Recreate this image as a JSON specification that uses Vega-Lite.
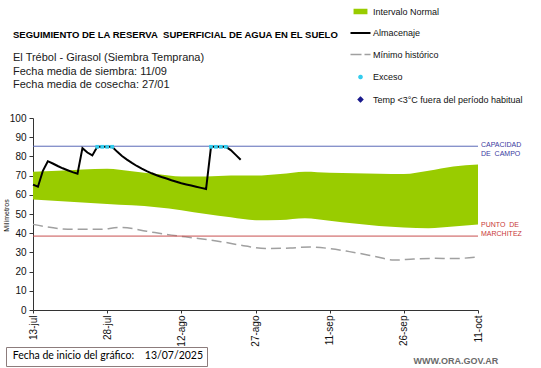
{
  "$schema": "https://vega.github.io/schema/vega-lite/v6.json",
  "width": 445,
  "height": 192,
  "autosize": "none",
  "padding": {"left": 33, "top": 118, "right": 63, "bottom": 58},
  "background": "white",
  "config": {
    "view": {"stroke": null},
    "font": "Liberation Sans",
    "axisY": {"labelOverlap": false, "labelSeparation": 0},
    "title": {"font": "Liberation Sans", "fontSize": 9.5, "fontWeight": "bold", "color": "#000000", "anchor": "start", "frame": "group", "dx": -20, "offset": -96.5, "subtitleFont": "Liberation Sans", "subtitleFontSize": 11, "subtitleColor": "#1a1a1a", "subtitleLineHeight": 13.5, "subtitlePadding": 13}
  },
  "title": {
    "text": "SEGUIMIENTO DE LA RESERVA\u00a0 SUPERFICIAL DE AGUA EN EL SUELO",
    "subtitle": ["El Trébol - Girasol (Siembra Temprana)", "\u00a0", "Fecha media de siembra: 11/09", "Fecha media de cosecha: 27/01"]
  },
  "datasets": {
    "banda": [
      {"fecha": "2025-07-13", "inferior": 57.6, "valor": 72.0},
      {"fecha": "2025-07-18", "inferior": 56.8, "valor": 72.5},
      {"fecha": "2025-07-23", "inferior": 56.0, "valor": 73.2},
      {"fecha": "2025-07-28", "inferior": 55.2, "valor": 73.6},
      {"fecha": "2025-08-02", "inferior": 54.5, "valor": 72.3},
      {"fecha": "2025-08-07", "inferior": 53.5, "valor": 70.8},
      {"fecha": "2025-08-12", "inferior": 52.0, "valor": 69.5},
      {"fecha": "2025-08-17", "inferior": 50.0, "valor": 69.5},
      {"fecha": "2025-08-22", "inferior": 48.3, "valor": 70.0},
      {"fecha": "2025-08-27", "inferior": 46.8, "valor": 70.0},
      {"fecha": "2025-09-01", "inferior": 46.9, "valor": 70.8},
      {"fecha": "2025-09-06", "inferior": 47.8, "valor": 72.0},
      {"fecha": "2025-09-11", "inferior": 46.5, "valor": 71.5},
      {"fecha": "2025-09-16", "inferior": 45.0, "valor": 71.2},
      {"fecha": "2025-09-21", "inferior": 43.8, "valor": 71.0},
      {"fecha": "2025-09-26", "inferior": 43.0, "valor": 70.8},
      {"fecha": "2025-10-01", "inferior": 42.6, "valor": 72.5},
      {"fecha": "2025-10-06", "inferior": 43.5, "valor": 74.8},
      {"fecha": "2025-10-11", "inferior": 44.5, "valor": 75.8}
    ],
    "minimo": [
      {"fecha": "2025-07-13", "valor": 44.6},
      {"fecha": "2025-07-16", "valor": 43.2},
      {"fecha": "2025-07-21", "valor": 42.0},
      {"fecha": "2025-07-26", "valor": 42.0},
      {"fecha": "2025-07-31", "valor": 43.0},
      {"fecha": "2025-08-05", "valor": 41.0},
      {"fecha": "2025-08-10", "valor": 39.0},
      {"fecha": "2025-08-15", "valor": 37.4},
      {"fecha": "2025-08-20", "valor": 35.6},
      {"fecha": "2025-08-25", "valor": 33.3},
      {"fecha": "2025-08-29", "valor": 32.0},
      {"fecha": "2025-09-03", "valor": 32.3},
      {"fecha": "2025-09-07", "valor": 32.8},
      {"fecha": "2025-09-11", "valor": 32.0},
      {"fecha": "2025-09-15", "valor": 30.4},
      {"fecha": "2025-09-20", "valor": 28.0},
      {"fecha": "2025-09-24", "valor": 26.0},
      {"fecha": "2025-09-28", "valor": 26.6},
      {"fecha": "2025-10-02", "valor": 26.9},
      {"fecha": "2025-10-06", "valor": 26.8},
      {"fecha": "2025-10-11", "valor": 27.6}
    ],
    "almacenaje": [
      {"fecha": "2025-07-13", "valor": 65.3},
      {"fecha": "2025-07-14", "valor": 64.2},
      {"fecha": "2025-07-15", "valor": 72.5},
      {"fecha": "2025-07-16", "valor": 77.5},
      {"fecha": "2025-07-17", "valor": 76.3},
      {"fecha": "2025-07-18", "valor": 75.0},
      {"fecha": "2025-07-19", "valor": 73.8},
      {"fecha": "2025-07-20", "valor": 72.8},
      {"fecha": "2025-07-21", "valor": 71.8},
      {"fecha": "2025-07-22", "valor": 71.0},
      {"fecha": "2025-07-23", "valor": 84.3},
      {"fecha": "2025-07-24", "valor": 82.0},
      {"fecha": "2025-07-25", "valor": 80.5},
      {"fecha": "2025-07-26", "valor": 85.0},
      {"fecha": "2025-07-27", "valor": 85.0},
      {"fecha": "2025-07-28", "valor": 85.0},
      {"fecha": "2025-07-29", "valor": 85.0},
      {"fecha": "2025-07-30", "valor": 82.5},
      {"fecha": "2025-07-31", "valor": 80.2},
      {"fecha": "2025-08-01", "valor": 78.3},
      {"fecha": "2025-08-02", "valor": 76.6},
      {"fecha": "2025-08-03", "valor": 75.0},
      {"fecha": "2025-08-04", "valor": 73.6},
      {"fecha": "2025-08-05", "valor": 72.3},
      {"fecha": "2025-08-06", "valor": 71.2},
      {"fecha": "2025-08-07", "valor": 70.2},
      {"fecha": "2025-08-08", "valor": 69.3},
      {"fecha": "2025-08-09", "valor": 68.5},
      {"fecha": "2025-08-10", "valor": 67.6},
      {"fecha": "2025-08-11", "valor": 66.8},
      {"fecha": "2025-08-12", "valor": 66.0},
      {"fecha": "2025-08-13", "valor": 65.4},
      {"fecha": "2025-08-14", "valor": 64.8},
      {"fecha": "2025-08-15", "valor": 64.2},
      {"fecha": "2025-08-16", "valor": 63.6},
      {"fecha": "2025-08-17", "valor": 63.0},
      {"fecha": "2025-08-18", "valor": 85.0},
      {"fecha": "2025-08-19", "valor": 85.0},
      {"fecha": "2025-08-20", "valor": 85.0},
      {"fecha": "2025-08-21", "valor": 85.0},
      {"fecha": "2025-08-22", "valor": 83.3},
      {"fecha": "2025-08-23", "valor": 80.8},
      {"fecha": "2025-08-24", "valor": 78.3}
    ],
    "exceso": [
      {"fecha": "2025-07-26", "valor": 85.0},
      {"fecha": "2025-07-27", "valor": 85.0},
      {"fecha": "2025-07-28", "valor": 85.0},
      {"fecha": "2025-07-29", "valor": 85.0},
      {"fecha": "2025-08-18", "valor": 85.0},
      {"fecha": "2025-08-19", "valor": 85.0},
      {"fecha": "2025-08-20", "valor": 85.0},
      {"fecha": "2025-08-21", "valor": 85.0}
    ],
    "referencias": [
      {"tipo": "capacidad", "nombre": "CAPACIDAD|DE\u00a0\u00a0CAMPO", "fecha": "2025-10-11", "valor": 85.3},
      {"tipo": "marchitez", "nombre": "PUNTO\u00a0\u00a0DE|MARCHITEZ", "fecha": "2025-10-11", "valor": 38.5}
    ],
    "inicio": [
      {"texto": "Fecha de inicio del gráfico:\u00a0\u00a0\u00a0\u00a013/07/2025\u00a0\u00a0\u00a0\u00a0\u00a0\u00a0"}
    ]
  },
  "encoding": {
    "x": {
      "field": "fecha", "type": "temporal",
      "scale": {"type": "utc", "domain": [{"year": 2025, "month": 7, "date": 13, "utc": true}, {"year": 2025, "month": 10, "date": 11, "utc": true}], "nice": false},
      "axis": {
        "values": [
          {"year": 2025, "month": 7, "date": 13, "utc": true},
          {"year": 2025, "month": 7, "date": 28, "utc": true},
          {"year": 2025, "month": 8, "date": 12, "utc": true},
          {"year": 2025, "month": 8, "date": 27, "utc": true},
          {"year": 2025, "month": 9, "date": 11, "utc": true},
          {"year": 2025, "month": 9, "date": 26, "utc": true},
          {"year": 2025, "month": 10, "date": 11, "utc": true}
        ],
        "labelExpr": "utcdate(datum.value) + '-' + ['ene','feb','mar','abr','may','jun','jul','ago','sep','oct','nov','dic'][utcmonth(datum.value)]",
        "labelAngle": 270, "labelAlign": "right", "labelBaseline": "middle",
        "labelFont": "Liberation Sans", "labelFontSize": 10, "labelColor": "#111111",
        "labelPadding": 2, "tickSize": 3, "tickColor": "#333333", "domainColor": "#333333",
        "grid": false, "labelOverlap": false, "labelFlush": false,
        "title": "WWW.ORA.GOV.AR", "titleFont": "Liberation Sans", "titleFontSize": 9, "titleFontWeight": "bold",
        "titleColor": "#6a6a6a", "titleAlign": "left", "titleBaseline": "middle", "titleAnchor": "start",
        "titleX": 380, "titleY": 50
      }
    },
    "y": {
      "field": "valor", "type": "quantitative",
      "scale": {"domain": [0, 100], "nice": false},
      "axis": {
        "values": [0, 10, 20, 30, 40, 50, 60, 70, 80, 90, 100],
        "labelFont": "Liberation Sans", "labelFontSize": 10, "labelColor": "#111111",
        "labelPadding": 3, "tickSize": 4, "tickColor": "#333333", "domainColor": "#333333",
        "grid": false, "labelOverlap": false, "labelFlush": false,
        "title": "Milímetros", "titleFont": "Liberation Sans", "titleFontSize": 7, "titleFontWeight": "normal",
        "titleColor": "#111111", "titleAngle": 270, "titleAlign": "center", "titleBaseline": "middle",
        "titleX": -27, "titleY": 97
      }
    }
  },
  "layer": [
    {
      "data": {"name": "banda"},
      "mark": {"type": "area", "interpolate": "monotone", "opacity": 1},
      "encoding": {
        "y2": {"field": "inferior"},
        "color": {
          "datum": "Intervalo Normal",
          "scale": {
            "domain": ["Intervalo Normal", "Almacenaje", "Mínimo histórico", "Exceso", "Temp <3°C fuera del período habitual"],
            "range": ["#99cc00", "#000000", "#a0a0a0", "#33ccee", "#1a1a8c"]
          },
          "legend": {
            "title": null, "orient": "none", "legendX": 323, "legendY": -111,
            "padding": 0, "symbolSize": 400, "symbolStrokeWidth": 0, "rowPadding": 11.5,
            "labelFont": "Liberation Sans", "labelFontSize": 9, "labelColor": "#111111", "labelOffset": 8, "labelLimit": 300,
            "encoding": {
              "symbols": {
                "shape": {"value": {"expr": "datum.value === 'Intervalo Normal' ? 'M-0.62,-0.19H0.62V0.19H-0.62Z' : (datum.value === 'Almacenaje' || datum.value === 'Mínimo histórico') ? 'stroke' : datum.value === 'Exceso' ? 'circle' : 'diamond'"}},
                "size": {"value": {"expr": "datum.value === 'Exceso' ? 10 : (datum.value === 'Almacenaje' || datum.value === 'Mínimo histórico' || datum.value === 'Intervalo Normal') ? 400 : 20"}},
                "fill": {"value": {"expr": "datum.value === 'Intervalo Normal' ? '#99cc00' : datum.value === 'Exceso' ? '#33ccee' : (datum.value === 'Almacenaje' || datum.value === 'Mínimo histórico') ? 'transparent' : '#1a1a8c'"}},
                "stroke": {"value": {"expr": "datum.value === 'Almacenaje' ? '#000000' : datum.value === 'Mínimo histórico' ? '#a0a0a0' : 'transparent'"}},
                "strokeWidth": {"value": {"expr": "datum.value === 'Almacenaje' ? 2 : 1.5"}},
                "strokeDash": {"value": {"expr": "datum.value === 'Mínimo histórico' ? [11, 3] : [1, 0]"}},
                "opacity": {"value": 1}
              }
            }
          }
        }
      }
    },
    {
      "data": {"name": "minimo"},
      "mark": {"type": "line", "interpolate": "monotone", "strokeWidth": 1.5, "strokeDash": [10, 5]},
      "encoding": {
        "color": {"datum": "Mínimo histórico"}
      }
    },
    {
      "data": {"name": "referencias"},
      "mark": {"type": "rule", "strokeWidth": 1},
      "encoding": {
        "x": {"value": 0},
        "x2": {"value": 445},
        "color": {"condition": {"test": "datum.tipo === 'capacidad'", "value": "#5a6ab8"}, "value": "#c85050"}
      }
    },
    {
      "data": {"name": "almacenaje"},
      "mark": {"type": "line", "strokeWidth": 2},
      "encoding": {
        "color": {"datum": "Almacenaje"}
      }
    },
    {
      "data": {"name": "exceso"},
      "mark": {"type": "square", "size": 14, "opacity": 1, "filled": true},
      "encoding": {
        "color": {"datum": "Exceso"}
      }
    },
    {
      "data": {"name": "referencias"},
      "transform": [{"filter": "datum.tipo === 'capacidad'"}],
      "mark": {"type": "text", "align": "left", "baseline": "top", "dx": 3, "dy": -5, "fontSize": 7, "lineHeight": 8.5, "lineBreak": "|", "font": "Liberation Sans", "color": "#3a3aa0"},
      "encoding": {
        "text": {"field": "nombre"}
      }
    },
    {
      "data": {"name": "referencias"},
      "transform": [{"filter": "datum.tipo === 'marchitez'"}],
      "mark": {"type": "text", "align": "left", "baseline": "top", "dx": 3, "dy": -15, "fontSize": 7, "lineHeight": 8.5, "lineBreak": "|", "font": "Liberation Sans", "color": "#c83838"},
      "encoding": {
        "text": {"field": "nombre"}
      }
    },
    {
      "data": {"name": "inicio"},
      "mark": {"type": "point", "opacity": 0},
      "encoding": {
        "x": {"value": 0},
        "y": {"value": 0},
        "shape": {
          "field": "texto", "type": "nominal",
          "legend": {
            "title": null, "orient": "none", "legendX": -27, "legendY": 229,
            "padding": 3.75, "strokeColor": "#8c7c7c", "fillColor": "#ffffff",
            "symbolSize": 0, "symbolOpacity": 0, "symbolStrokeWidth": 0,
            "labelFont": "Lato", "labelFontSize": 10.5, "labelColor": "#000000", "labelOffset": -7.6, "labelLimit": 400
          }
        }
      }
    }
  ]
}
